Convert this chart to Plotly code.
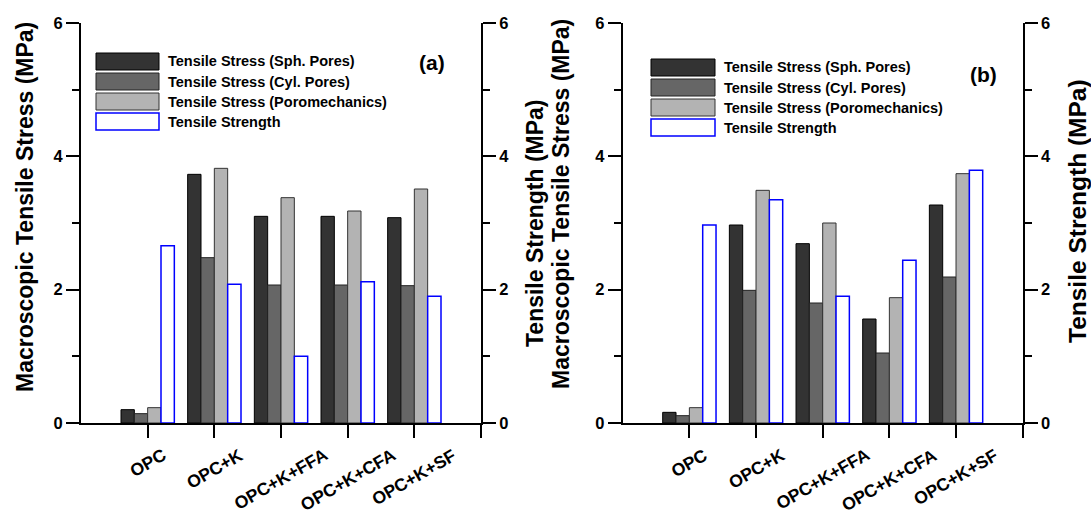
import plotly.graph_objects as go

# ---------------- data ----------------
categories = ["OPC", "OPC+K", "OPC+K+FFA", "OPC+K+CFA", "OPC+K+SF"]
series_names = ["Tensile Stress (Sph. Pores)", "Tensile Stress (Cyl. Pores)",
                "Tensile Stress (Poromechanics)", "Tensile Strength"]

a_sph = [0.20, 3.73, 3.10, 3.10, 3.08]
a_cyl = [0.14, 2.48, 2.07, 2.07, 2.06]
a_poro = [0.23, 3.82, 3.38, 3.18, 3.51]
a_strength = [2.66, 2.08, 1.00, 2.12, 1.90]

b_sph = [0.16, 2.97, 2.69, 1.56, 3.27]
b_cyl = [0.11, 1.99, 1.80, 1.05, 2.19]
b_poro = [0.23, 3.49, 3.00, 1.88, 3.74]
b_strength = [2.97, 3.35, 1.90, 2.44, 3.79]

y_ticks = [0, 2, 4, 6]

# ---------------- layout helpers ----------------
W, H = 1091, 515
FONT = "Liberation Sans, Arial, sans-serif"


def px(x):
    return x / W


def py(y):
    return 1 - y / H


fills = ["#333333", "#666666", "#b3b3b3", "#ffffff"]
lines = ["#000000", "#222222", "#333333", "#0000ff"]
offsets = [-0.4, -0.2, 0.0, 0.2]
xpos = [i + 1 for i in range(len(categories))]

fig = go.Figure()

panels = [
    dict(data=[a_sph, a_cyl, a_poro, a_strength], x="x", xt="x3", yl="y", yr="y2"),
    dict(data=[b_sph, b_cyl, b_poro, b_strength], x="x2", xt="x4", yl="y3", yr="y4"),
]

for p in panels:
    for k, vals in enumerate(p["data"]):
        fig.add_trace(go.Bar(
            x=xpos, y=vals, name=series_names[k],
            xaxis=p["x"], yaxis=p["yr"] if k == 3 else p["yl"],
            width=0.2, offset=offsets[k],
            marker=dict(color=fills[k], line=dict(color=lines[k], width=1.5 if k == 3 else 1)),
            showlegend=False,
        ))

ydom = [py(423), py(23)]
xdom_a = [px(81), px(481)]
xdom_b = [px(622.7), px(1022.7)]

tickfont = dict(family=FONT, size=16.5, color="black", weight="bold")
axis_common = dict(showline=True, linecolor="black", linewidth=2, ticks="outside",
                   tickcolor="black", tickwidth=2, showgrid=False, zeroline=False,
                   fixedrange=True, automargin=False)


def bottom_axis(dom, anchor):
    return dict(domain=dom, range=[0, 6], anchor=anchor, tickmode="array",
                tickvals=[1, 2, 3, 4, 5, 6], showticklabels=False, ticklen=13,
                **axis_common)


def top_axis(over, anchor):
    return dict(overlaying=over, side="top", range=[0, 6], anchor=anchor,
                tickmode="linear", tick0=0, dtick=1, ticklen=13, showticklabels=False,
                minor=dict(dtick=0.5, tick0=0, ticklen=7, tickwidth=2, tickcolor="black",
                           ticks="outside"),
                **axis_common)


def y_axis(anchor, side, over=None):
    d = dict(domain=ydom, range=[0, 6], anchor=anchor, side=side, tickmode="array",
             tickvals=y_ticks, ticktext=[str(v) for v in y_ticks], ticklen=13,
             tickfont=tickfont,
             minor=dict(tickvals=[1, 3, 5], ticklen=7, tickwidth=2, tickcolor="black",
                        ticks="outside"),
             **axis_common)
    if over:
        d["overlaying"] = over
    return d


fig.update_layout(
    width=W, height=H,
    margin=dict(l=0, r=0, t=0, b=0, autoexpand=False),
    paper_bgcolor="white", plot_bgcolor="white",
    barmode="overlay",
    showlegend=False,
    font=dict(family=FONT, color="black"),
    xaxis=bottom_axis(xdom_a, "y"),
    xaxis2=bottom_axis(xdom_b, "y3"),
    xaxis3=top_axis("x", "y"),
    xaxis4=top_axis("x2", "y3"),
    yaxis=y_axis("x", "left"),
    yaxis2=y_axis("x", "right", "y"),
    yaxis3=y_axis("x2", "left"),
    yaxis4=y_axis("x2", "right", "y3"),
)

annotations = []
shapes = []

# category labels (rotated, centred under each tick)
for xa in ["x", "x2"]:
    for i, c in enumerate(categories):
        annotations.append(dict(
            x=xpos[i], y=py(442), xref=xa, yref="paper", text=c, showarrow=False,
            textangle=-30, xanchor="center", yanchor="top",
            font=dict(family=FONT, size=17.5, color="black", weight="bold")))

# axis titles
for (x, y, t, s) in [(25, 207, "Macroscopic Tensile Stress (MPa)", 23),
                     (535, 223, "Tensile Strength (MPa)", 23),
                     (561, 204, "Macroscopic Tensile Stress (MPa)", 23),
                     (1077, 211, "Tensile Strength (MPa)", 24.5)]:
    annotations.append(dict(x=px(x), y=py(y), xref="paper", yref="paper", text=t,
                            showarrow=False, textangle=-90, xanchor="center",
                            yanchor="middle",
                            font=dict(family=FONT, size=s, color="black", weight="bold")))

# panel labels
label_font = dict(family=FONT, size=21, color="black", weight="bold")
annotations.append(dict(x=px(432), y=py(62), xref="paper", yref="paper", text="(a)",
                        showarrow=False, xanchor="center", yanchor="middle",
                        font=label_font))
annotations.append(dict(x=px(983), y=py(75), xref="paper", yref="paper", text="(b)",
                        showarrow=False, xanchor="center", yanchor="middle",
                        font=label_font))

# hand-built legends (wide swatches as in the original)
legend_font = dict(family=FONT, size=14.5, color="black", weight="bold")
for (bx0, bx1, by0, tx) in [(96, 159, 53, 166), (651, 715, 59, 722)]:
    for k, name in enumerate(series_names):
        y0 = by0 + 20 * k
        shapes.append(dict(type="rect", xref="paper", yref="paper",
                           x0=px(bx0), x1=px(bx1), y0=py(y0), y1=py(y0 + 17),
                           fillcolor=fills[k],
                           line=dict(color=lines[k], width=1.5 if k == 3 else 1)))
        annotations.append(dict(x=px(tx), y=py(y0 + 8.5), xref="paper", yref="paper",
                                text=name, showarrow=False, xanchor="left",
                                yanchor="middle", font=legend_font))

fig.update_layout(annotations=annotations, shapes=shapes)

fig.write_html("out.html")
